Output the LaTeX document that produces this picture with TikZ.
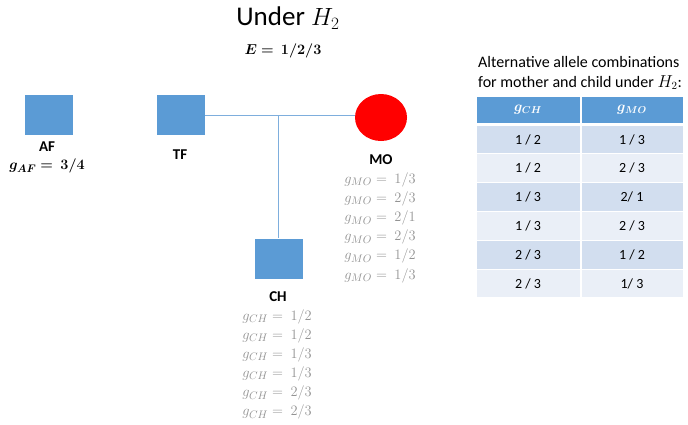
\documentclass[tikz,border=0pt]{standalone}
\usepackage{amsmath,bm}
\usepackage{fontspec}
\setmainfont{Carlito}
\usetikzlibrary{shapes.geometric}
\definecolor{blu}{HTML}{5B9BD5}
\definecolor{linec}{HTML}{7EAEDD}
\definecolor{rowA}{HTML}{D2DEEF}
\definecolor{rowB}{HTML}{EAEFF7}
\definecolor{gr}{HTML}{939393}
\definecolor{redc}{HTML}{FF0000}
\begin{document}
\begin{tikzpicture}[x=1pt,y=-1pt,
  sq/.style={fill=blu, draw=none, minimum width=48pt, minimum height=40pt, inner sep=0pt},
  circ/.style={ellipse, fill=redc, draw=none, minimum width=52pt, minimum height=47pt, inner sep=0pt},
  conn/.style={draw=linec, line width=1pt},
  lbl/.style={font=\bfseries\fontsize{15}{17}\selectfont, inner sep=0pt},
  gline/.style={text=gr, font=\fontsize{15}{17}\selectfont, inner sep=0pt},
  cell/.style={font=\fontsize{14}{16}\selectfont, inner sep=0pt},
  hcell/.style={font=\fontsize{14.5}{16}\selectfont, text=white, inner sep=0pt}]
\useasboundingbox (0,0) rectangle (688,424);

% title
\node[font=\fontsize{27}{30}\selectfont, inner sep=0pt] (title) at (288,18) {Under $H_2$};
\node[font=\fontsize{14.5}{17}\selectfont, inner sep=0pt] (E) at (283,51) {$\bm{E = \ 1/2/3}$};

% pedigree
\node[sq] (AF) at (49,115) {};
\node[sq] (TF) at (180.5,115) {};
\node[circ] (MO) at (381,117.5) {};
\node[sq] (CH) at (279,258.5) {};
\coordinate (J) at (278,115);
\draw[conn] (TF.east) -- (MO.west |- TF.east);
\draw[conn] (J) -- (J |- CH.north);

\node[lbl] (AFl) at (47,147) {AF};
\node[font=\fontsize{15}{17}\selectfont, inner sep=0pt] (gAF) at (47,166) {$\bm{g_{AF} = \ 3/4}$};
\node[lbl] (TFl) at (180,155) {TF};
\node[lbl] (MOl) at (381,160) {MO};
\node[lbl] (CHl) at (278,297) {CH};

\foreach \v [count=\i] in {1/3,2/3,2/1,2/3,1/2,1/3}
  \node[gline] (gmo\i) at (380,179.5+19.2*\i-19.2) {$g_{MO} = \ \v$};
\foreach \v [count=\i] in {1/2,1/2,1/3,1/3,2/3,2/3}
  \node[gline] (gch\i) at (277,316.5+19.1*\i-19.1) {$g_{CH} = \ \v$};

% table
\node[font=\fontsize{16}{20}\selectfont, align=left, inner sep=0pt, anchor=north west] (ttl) at (478,56)
  {Alternative allele combinations\\for mother and child under $H_2$:};
\fill[blu] (477,97) rectangle (579.5,123);
\fill[blu] (581.5,97) rectangle (683,123);
\node[hcell] (h1) at (528,110) {$\bm{g_{CH}}$};
\node[hcell] (h2) at (632,110) {$\bm{g_{MO}}$};
\foreach \i in {1,...,6}{
  \pgfmathsetmacro{\top}{125.5+28.9*(\i-1)}
  \pgfmathsetmacro{\bot}{\top+27.4}
  \ifodd\i \def\rc{rowA}\else\def\rc{rowB}\fi
  \fill[\rc] (477,\top) rectangle (579.5,\bot);
  \fill[\rc] (581.5,\top) rectangle (683,\bot);
}
\node[cell] (c11) at (528,139.5) {1 / 2};
\node[cell] (c12) at (632,139.5) {1 / 3};
\node[cell] (c21) at (528,168.4) {1 / 2};
\node[cell] (c22) at (632,168.4) {2 / 3};
\node[cell] (c31) at (528,197.3) {1 / 3};
\node[cell] (c32) at (632,197.3) {2/ 1};
\node[cell] (c41) at (528,226.2) {1 / 3};
\node[cell] (c42) at (632,226.2) {2 / 3};
\node[cell] (c51) at (528,255.1) {2 / 3};
\node[cell] (c52) at (632,255.1) {1 / 2};
\node[cell] (c61) at (528,284) {2 / 3};
\node[cell] (c62) at (632,284) {1/ 3};
\end{tikzpicture}
\end{document}
